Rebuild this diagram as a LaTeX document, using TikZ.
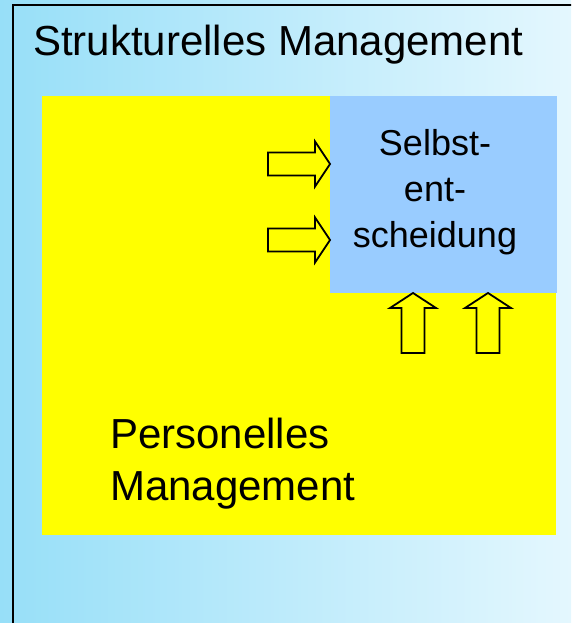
\documentclass[tikz,border=0pt]{standalone}
\usepackage{fontspec}
\setmainfont{Liberation Sans}
\usetikzlibrary{positioning}
\definecolor{skyLeft}{HTML}{97DFF8}
\definecolor{skyRight}{HTML}{E4F7FE}
\definecolor{boxBlue}{HTML}{99CCFF}
\definecolor{boxYellow}{HTML}{FFFF00}

\tikzset{
  rarrow/.pic={\draw[line width=1.8pt,fill=boxYellow,line join=miter]
    (-62,-11.5) -- (-15,-11.5) -- (-15,-22.5) -- (0,0) -- (-15,22.5) -- (-15,11.5) -- (-62,11.5) -- cycle;},
  uarrow/.pic={\draw[line width=1.8pt,fill=boxYellow,line join=miter]
    (-11.5,60) -- (-11.5,15) -- (-23,15) -- (0,0) -- (23,15) -- (11.5,15) -- (11.5,60) -- cycle;}
}

\begin{document}
\begin{tikzpicture}[x=1pt,y=-1pt,
  plate/.style={inner sep=0pt,outer sep=0pt,draw=none},
  label/.style={inner sep=0pt}]
\useasboundingbox (0,0) rectangle (571,623);
% background with gradient and outer frame
\shade[left color=skyLeft,right color=skyRight] (0,0) rectangle (571,623);
\begin{scope}
  \clip (0,0) rectangle (571,623);
  \draw[line width=2pt] (12.5,5) rectangle (580,640);
\end{scope}
\node[label,anchor=base west,font=\fontsize{42}{48}\selectfont] (struct) at (33,56) {Strukturelles Management};
% personal management and self-decision
\node[plate,fill=boxYellow,minimum width=514pt,minimum height=439pt] (pers) at (299,315.5) {};
\node[plate,fill=boxBlue,minimum width=227pt,minimum height=197pt] (selbst) at (443.5,194.5) {};
\node[label,anchor=base,align=center,font=\fontsize{36}{46}\selectfont] (selbsttext) at (435,247) {Selbst-\\ent-\\scheidung};
\node[label,anchor=base west,align=left,font=\fontsize{42}{52}\selectfont] (perstext) at (110,500) {Personelles\\Management};
% arrows into the box
\pic at (330,164) {rarrow};
\pic at (330,240) {rarrow};
\pic at (413,293) {uarrow};
\pic at (488,293) {uarrow};
\end{tikzpicture}
\end{document}
